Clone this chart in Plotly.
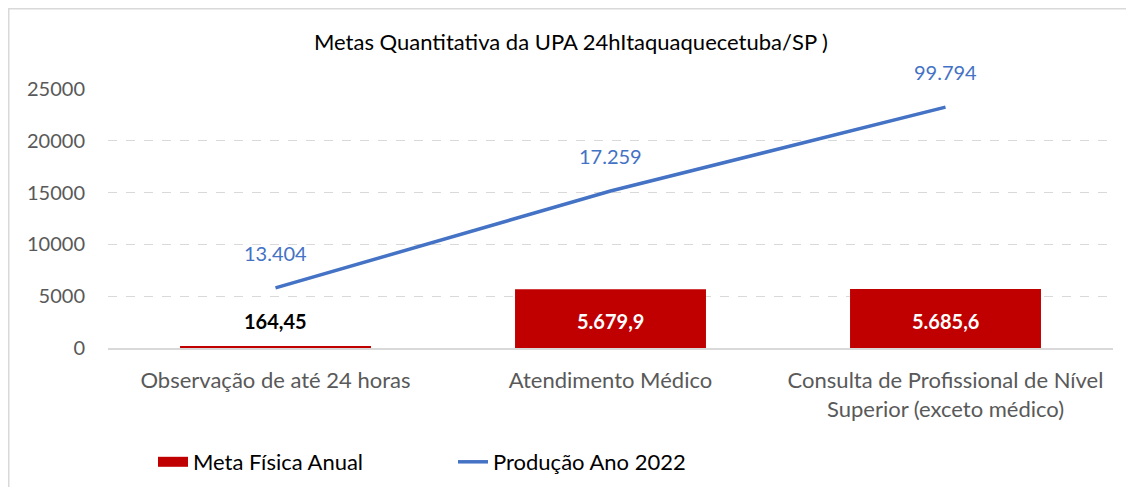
import plotly.graph_objects as go

categories = ["Observação de até 24 horas", "Atendimento Médico",
              "Consulta de Profissional de Nível<br>Superior (exceto médico)"]
meta_fisica = [164.45, 5679.9, 5685.6]
meta_labels = ["164,45", "5.679,9", "5.685,6"]
producao = [5800, 15150, 23250]
producao_labels = ["13.404", "17.259", "99.794"]
y_ticks = [0, 5000, 10000, 15000, 20000, 25000]

FONT = "Lato"
BAR_COLOR = "#C00000"
LINE_COLOR = "#4472C4"

# page body has an 8px margin; figure sized so the plot area lands where the reference has it
OFF = 8
ML, MR, MT, MB = 100, 21, 81, 139
PW, PH = 1005, 259
W, H = ML + PW + MR, MT + PH + MB

fig = go.Figure()
fig.add_trace(go.Bar(x=categories, y=meta_fisica, name="Meta Física Anual",
                     marker=dict(color=BAR_COLOR, line=dict(width=0)), width=0.57,
                     hoverinfo="skip", showlegend=False))
# legend entry for the bars drawn as a wide red swatch, like the reference
fig.add_trace(go.Scatter(x=[None], y=[None], mode="lines", name="Meta Física Anual",
                         line=dict(color=BAR_COLOR, width=12), hoverinfo="skip"))
fig.add_trace(go.Scatter(x=categories, y=producao, name="Produção Ano 2022",
                         mode="lines", line=dict(color=LINE_COLOR, width=3.5),
                         hoverinfo="skip"))

label_y = max(meta_fisica) / 2
for i, (c, t) in enumerate(zip(categories, meta_labels)):
    fig.add_annotation(x=c, y=label_y, text=f"<b>{t}</b>", showarrow=False, yshift=-2,
                       font=dict(family=FONT, size=20,
                                 color="black" if meta_fisica[i] < 1000 else "white"))
for c, v, t in zip(categories, producao, producao_labels):
    fig.add_annotation(x=c, y=v, text=t, showarrow=False, yshift=35,
                       font=dict(family=FONT, size=20, color=LINE_COLOR))

# outer chart-area border
fig.add_shape(type="rect", xref="paper", yref="paper",
              x0=(0.75 - ML) / PW, x1=1.2, y0=-1.0, y1=1 + (MT - 0.75) / PH,
              line=dict(color="#D9D9D9", width=1.5), fillcolor="rgba(0,0,0,0)", layer="below")

fig.update_layout(
    width=W, height=H,
    margin=dict(l=ML, r=MR, t=MT, b=MB),
    paper_bgcolor="white", plot_bgcolor="white",
    font=dict(family=FONT, size=20, color="#595959"),
    title=dict(text="Metas Quantitativa da UPA 24hItaquaquecetuba/SP )",
               x=0.5, xanchor="center", y=1 - (42 - OFF) / H, yanchor="middle",
               font=dict(family=FONT, size=22, color="black")),
    showlegend=True,
    legend=dict(orientation="h", xref="container", yref="container",
                x=(153 - OFF) / W, xanchor="left",
                y=1 - (462 - OFF) / H, yanchor="middle",
                font=dict(family=FONT, size=22, color="black"),
                entrywidth=255, entrywidthmode="pixels", traceorder="normal"),
    bargap=0.43,
)
fig.update_xaxes(showgrid=False, showline=True, linecolor="#D9D9D9", linewidth=1.5,
                 ticks="", ticklabelstandoff=12, automargin=False,
                 tickfont=dict(size=22, color="#595959"))
fig.update_yaxes(range=[0, 25000], tickvals=y_ticks, showgrid=True,
                 gridcolor="#D9D9D9", griddash="dash", gridwidth=1, automargin=False,
                 zeroline=False, showline=False, ticks="", ticklabelstandoff=22,
                 tickformat="d", tickfont=dict(size=20, color="#595959"))

fig.write_html("out.html")
